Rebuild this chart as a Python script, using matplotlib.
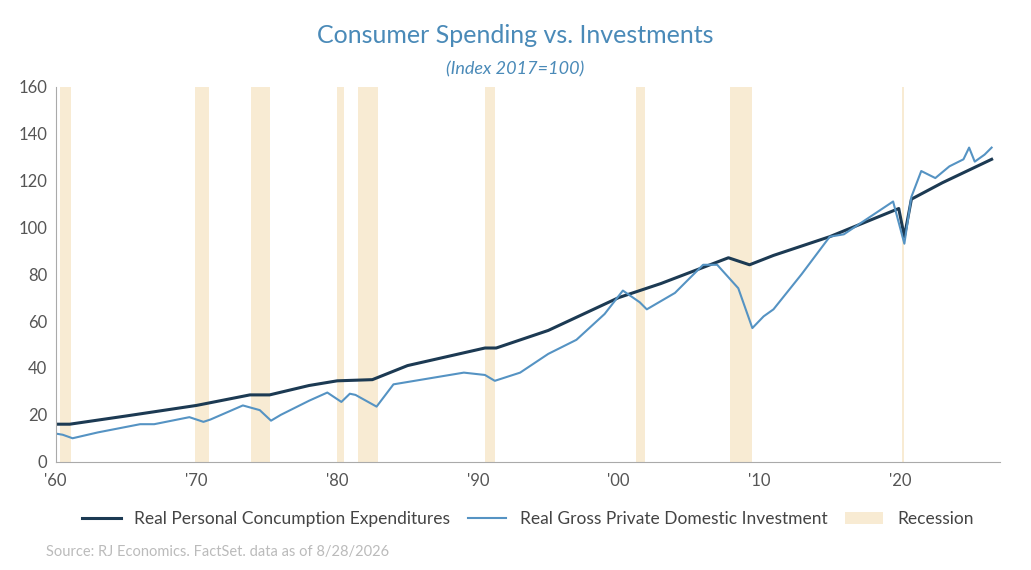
import matplotlib
matplotlib.use("Agg")
import matplotlib.pyplot as plt

plt.rcParams['font.family'] = ['Lato', 'DejaVu Sans']

# Real Personal Consumption Expenditures (index 2017=100)
pce_years = [1960, 1961, 1965, 1970, 1973.8, 1975.2, 1978, 1980, 1982.5, 1985, 1990.5,
             1991.3, 1995, 2000, 2003, 2007.8, 2009.3, 2011, 2015, 2019.9, 2020.3,
             2020.8, 2023, 2026.5]
pce_vals = [16, 16, 19.5, 24, 28.5, 28.5, 32.5, 34.5, 35, 41, 48.5,
            48.5, 56, 70, 76, 87, 84, 88, 96, 108, 96,
            112, 119, 129]

# Real Gross Private Domestic Investment (index 2017=100)
inv_years = [1960, 1960.5, 1961.2, 1963, 1966, 1967, 1969.5, 1970.5, 1971, 1973.3,
             1974.5, 1975.3, 1976, 1978, 1979.3, 1980.3, 1980.9, 1981.3, 1982.8,
             1984, 1986, 1989, 1990.5, 1991.2, 1993, 1995, 1997, 1999, 2000.3,
             2001.5, 2002, 2004, 2006, 2007, 2008.5, 2009.5, 2010.3, 2011, 2013,
             2015, 2016, 2018, 2019.5, 2020.3, 2020.8, 2021.5, 2022.5, 2023.5,
             2024.5, 2024.9, 2025.3, 2026, 2026.5]
inv_vals = [12, 11.5, 10, 12.5, 16, 16, 19, 17, 18, 24,
            22, 17.5, 20, 26, 29.5, 25.5, 29, 28.5, 23.5,
            33, 35, 38, 37, 34.5, 38, 46, 52, 63, 73,
            68, 65, 72, 84, 84, 74, 57, 62, 65, 80,
            96, 97, 105, 111, 93, 113, 124, 121, 126,
            129, 134, 128, 131, 134]

recessions = [(1960.3, 1961.1), (1969.9, 1970.9), (1973.9, 1975.2), (1980.0, 1980.5),
              (1981.5, 1982.9), (1990.5, 1991.2), (2001.2, 2001.9), (2007.9, 2009.5),
              (2020.1, 2020.3)]

tick_years = [1960, 1970, 1980, 1990, 2000, 2010, 2020]
tick_labels = ["'60", "'70", "'80", "'90", "'00", "'10", "'20"]

fig, ax = plt.subplots(figsize=(10.31, 5.70), dpi=100)
fig.subplots_adjust(left=0.054, right=0.97, top=0.848, bottom=0.19)

for i, (a, b) in enumerate(recessions):
    ax.axvspan(a, b, color="#f8ebd3", lw=0, label="Recession" if i == 0 else None)

ax.plot(pce_years, pce_vals, color="#1c3a53", lw=2.2,
        label="Real Personal Concumption Expenditures")
ax.plot(inv_years, inv_vals, color="#5593c3", lw=1.5,
        label="Real Gross Private Domestic Investment")

ax.set_xlim(1960, 2027.1)
ax.set_ylim(0, 160)
ax.set_yticks(range(0, 161, 20))
ax.set_xticks(tick_years)
ax.set_xticklabels(tick_labels)
ax.tick_params(colors="#555555", labelsize=12, length=0)
ax.tick_params(axis="x", pad=8)
ax.tick_params(axis="y", pad=6)
for s in ("top", "right"):
    ax.spines[s].set_visible(False)
for s in ("left", "bottom"):
    ax.spines[s].set_color("#aaaaaa")

fig.text(0.5, 0.925, "Consumer Spending vs. Investments", ha="center",
         fontsize=18, color="#4a8ab8")
fig.text(0.5, 0.87, "(Index 2017=100)", ha="center", fontsize=13,
         color="#4a8ab8", style="italic")

h, l = ax.get_legend_handles_labels()
order = [1, 2, 0]
ax.legend([h[i] for i in order], [l[i] for i in order], loc="upper center",
          bbox_to_anchor=(0.5, -0.09), ncol=3, frameon=False, fontsize=12.5,
          handlelength=2.2, columnspacing=1.0, labelcolor="#444444")

fig.text(0.045, 0.025, "Source: RJ Economics. FactSet. data as of 8/28/2026",
         fontsize=10.5, color="#bbbbbb")

fig.savefig("out.png", dpi=100)
